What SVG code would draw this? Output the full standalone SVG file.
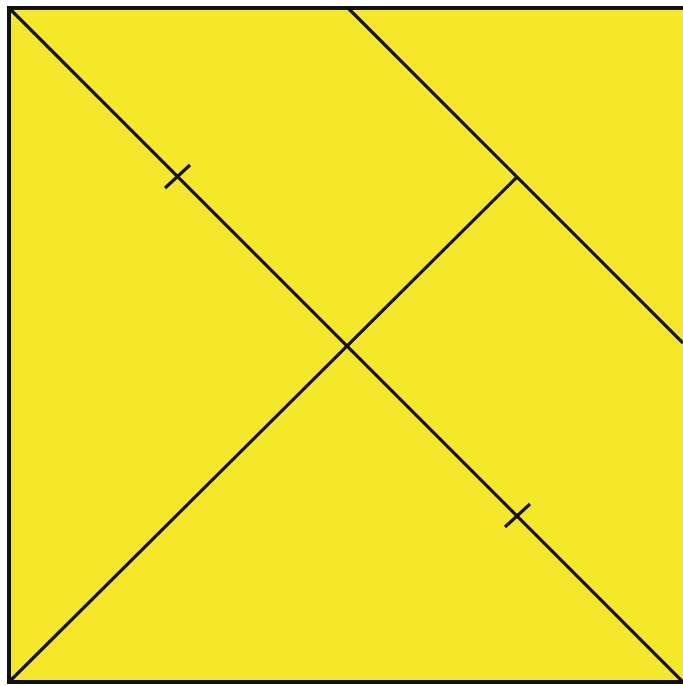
<svg xmlns="http://www.w3.org/2000/svg" width="683" height="686" viewBox="0 0 683 686">
<style>
.ln{stroke:#111;stroke-width:3.2;fill:none;stroke-linecap:butt}
</style>
<rect x="0" y="0" width="683" height="686" fill="#ffffff"/>
<g id="square">
<rect x="9" y="8" width="676" height="674" fill="#F5E82A" stroke="#111" stroke-width="4"/>
</g>
<g id="connectors">
<line class="ln" x1="9" y1="8" x2="683" y2="682"/>
<line class="ln" x1="348" y1="8" x2="683" y2="343"/>
<line class="ln" x1="9" y1="682" x2="517" y2="177"/>
<line class="ln" x1="165" y1="188" x2="190" y2="165"/>
<line class="ln" x1="505" y1="527" x2="530" y2="504"/>
</g>
</svg>
